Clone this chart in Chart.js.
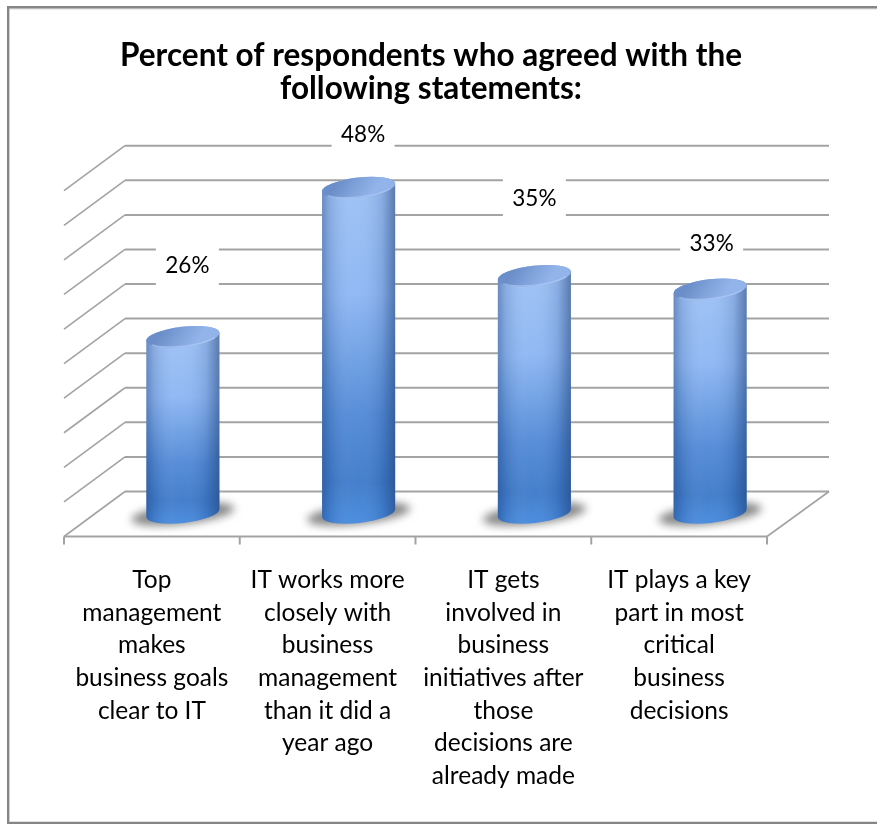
<!DOCTYPE html>
<html>
<head>
<meta charset="utf-8">
<title>Percent of respondents who agreed with the following statements</title>
<script src="https://cdn.jsdelivr.net/npm/chart.js@4/dist/chart.umd.min.js"></script>
<style>
  html, body { margin: 0; padding: 0; background: #fff; }
  canvas { display: block; }
</style>
</head>
<body>
<canvas id="chart" width="877" height="824"></canvas>
<script>
const titleLines = ["Percent of respondents who agreed with the", "following statements:"];
const categories = [
  ["Top", "management", "makes", "business goals", "clear to IT"],
  ["IT works more", "closely with", "business", "management", "than it did a", "year ago"],
  ["IT gets", "involved in", "business", "initiatives after", "those", "decisions are", "already made"],
  ["IT plays a key", "part in most", "critical", "business", "decisions"]
];
const agreedPercent = [26, 48, 35, 33];

// Hand-placed value labels: shift from the top of each bar, in pixels.
const labelShiftX = [4.5, 4.5, 0, 1.5];
const labelShiftY = [-71, -53, -77, -46];

// Depth of the 3D floor and how the back wall relates to the bar plane.
const DEPTH_X = 31, DEPTH_Y = 21.5, WALL_SCALE = 1.02;
const GRID = "#a3a3a3", FRAME = "#868686";

function wallY(yScale, value) {
  const base = yScale.getPixelForValue(0);
  return base - DEPTH_Y + (yScale.getPixelForValue(value) - base) * WALL_SCALE;
}

function line(ctx, x0, y0, x1, y1) {
  ctx.beginPath();
  ctx.moveTo(x0, y0);
  ctx.lineTo(x1, y1);
  ctx.stroke();
}

const frame = {
  id: "frame",
  beforeDraw(chart) {
    const { ctx, width, height } = chart;
    ctx.save();
    ctx.strokeStyle = "#d9d9d9";
    ctx.lineWidth = 1;
    line(ctx, 10, 9, width, 9);
    ctx.strokeStyle = FRAME;
    ctx.lineWidth = 2.4;
    ctx.beginPath();
    ctx.moveTo(width, 7.2);
    ctx.lineTo(8.2, 7.2);
    ctx.lineTo(8.2, height - 1);
    ctx.lineTo(width, height - 1);
    ctx.stroke();
    ctx.restore();
  }
};

// Back wall, side wall and floor, all positioned from the chart's scales.
const walls = {
  id: "walls",
  beforeDatasetsDraw(chart) {
    const { ctx, scales: { x, y } } = chart;
    const step = x.getPixelForValue(1) - x.getPixelForValue(0);
    const backLeft = x.left - DEPTH_X + 61;
    const backRight = x.right + DEPTH_X;
    const frontLeft = x.left - DEPTH_X;
    const frontRight = x.right - DEPTH_X;
    ctx.save();
    ctx.lineCap = "butt";
    ctx.strokeStyle = GRID;
    y.ticks.forEach(t => {
      const yy = wallY(y, t.value);
      ctx.lineWidth = 2;
      line(ctx, backLeft, yy, backRight, yy);
      ctx.lineWidth = 1.6;
      line(ctx, frontLeft, yy + 45, backLeft, yy);
    });
    const floorBack = wallY(y, 0), floorFront = floorBack + 45;
    ctx.lineWidth = 2;
    line(ctx, frontLeft, floorFront, frontRight, floorFront);
    ctx.lineWidth = 1.6;
    line(ctx, frontRight, floorFront, backRight, floorBack);
    ctx.lineWidth = 2;
    for (let i = 0; i <= categories.length; i++) {
      const tx = frontLeft + i * step;
      line(ctx, tx, floorFront, tx, floorFront + 8);
    }
    ctx.restore();
  }
};

// Draws each bar element of the dataset as a shaded cylinder.
const cylinders = {
  id: "cylinders",
  afterDatasetsDraw(chart) {
    const { ctx } = chart;
    const rot = -6.5 * Math.PI / 180;
    ctx.save();
    chart.getDatasetMeta(0).data.forEach(bar => {
      const cx = bar.x, rx = bar.width / 2 + 0.3, ry = 10;
      const top = bar.y, base = bar.base;
      const tilt = Math.sin(rot) * rx;

      // ground shadow
      ctx.save();
      ctx.filter = "blur(4px)";
      ctx.fillStyle = "rgba(105,105,105,0.8)";
      ctx.beginPath();
      ctx.ellipse(cx, base + 1, rx + 15, ry, rot, 0, Math.PI * 2);
      ctx.fill();
      ctx.restore();

      // body
      const body = () => {
        ctx.beginPath();
        ctx.ellipse(cx, base, rx, ry, rot, Math.PI, 0, true);
        ctx.lineTo(cx + rx * Math.cos(rot), top + tilt);
        ctx.ellipse(cx, top, rx, ry, rot, 0, Math.PI, true);
        ctx.closePath();
      };
      const v = ctx.createLinearGradient(0, top, 0, base + ry);
      v.addColorStop(0, "#9cc0f5");
      v.addColorStop(0.32, "#8cb6f3");
      v.addColorStop(0.68, "#5089d6");
      v.addColorStop(0.88, "#3e7aca");
      v.addColorStop(1, "#4589dd");
      body();
      ctx.fillStyle = v;
      ctx.fill();

      const h = ctx.createLinearGradient(cx - rx, 0, cx + rx, 0);
      h.addColorStop(0, "rgba(28,58,110,0.4)");
      h.addColorStop(0.1, "rgba(28,58,110,0.16)");
      h.addColorStop(0.38, "rgba(255,255,255,0.05)");
      h.addColorStop(0.5, "rgba(255,255,255,0.04)");
      h.addColorStop(0.82, "rgba(28,58,110,0.14)");
      h.addColorStop(1, "rgba(28,58,110,0.52)");
      body();
      ctx.fillStyle = h;
      ctx.fill();

      // cap
      const c = ctx.createLinearGradient(cx - rx * 0.5, top - ry, cx + rx * 0.3, top + ry);
      c.addColorStop(0, "#6b8dc8");
      c.addColorStop(0.55, "#82a4dc");
      c.addColorStop(1, "#92b4ea");
      ctx.beginPath();
      ctx.ellipse(cx, top, rx, ry, rot, 0, Math.PI * 2);
      ctx.fillStyle = c;
      ctx.fill();
      ctx.beginPath();
      ctx.ellipse(cx, top, rx - 0.8, ry - 0.6, rot, 0.5, Math.PI - 0.5);
      ctx.strokeStyle = "rgba(185,212,250,0.55)";
      ctx.lineWidth = 1.3;
      ctx.stroke();
    });
    ctx.restore();
  }
};

// Percent labels sit on white plates that break the grid lines behind them.
const valueLabels = {
  id: "valueLabels",
  afterDatasetsDraw(chart) {
    const { ctx } = chart;
    ctx.save();
    ctx.font = "22.5px Lato";
    ctx.textAlign = "center";
    ctx.textBaseline = "middle";
    chart.getDatasetMeta(0).data.forEach((bar, i) => {
      const lx = bar.x + labelShiftX[i], ly = bar.y + labelShiftY[i];
      ctx.fillStyle = "#fff";
      ctx.fillRect(lx - 31.5, ly - 20, 63, 40);
      ctx.fillStyle = "#000";
      ctx.fillText(agreedPercent[i] + "%", lx, ly);
    });
    ctx.restore();
  }
};

new Chart(document.getElementById("chart"), {
  type: "bar",
  data: {
    labels: categories,
    datasets: [{
      label: "Percent of respondents",
      data: agreedPercent,
      backgroundColor: "transparent",
      borderWidth: 0,
      barPercentage: 0.415,
      categoryPercentage: 1
    }]
  },
  plugins: [frame, walls, cylinders, valueLabels],
  options: {
    responsive: false,
    animation: false,
    layout: { padding: { left: 64, right: 79, top: 0, bottom: 0 } },
    plugins: {
      legend: { display: false },
      tooltip: { enabled: false },
      title: {
        display: true,
        text: titleLines,
        color: "#000",
        font: { family: "Lato", size: 31.5, weight: "bold", lineHeight: 33 / 31.5 },
        padding: { top: 39, bottom: 69 }
      }
    },
    scales: {
      x: {
        grid: { display: false },
        border: { display: false },
        afterFit(scale) { scale.height = 311; },
        ticks: {
          autoSkip: false,
          maxRotation: 0,
          minRotation: 0,
          labelOffset: -DEPTH_X,
          padding: 43,
          color: "#000",
          font: { family: "Lato", size: 24.5, lineHeight: 32.6 / 24.5 }
        }
      },
      y: {
        min: 0,
        max: 50,
        grid: { display: false },
        border: { display: false },
        afterFit(scale) { scale.width = 31; },
        ticks: { stepSize: 5, display: false }
      }
    }
  }
});
</script>
</body>
</html>
